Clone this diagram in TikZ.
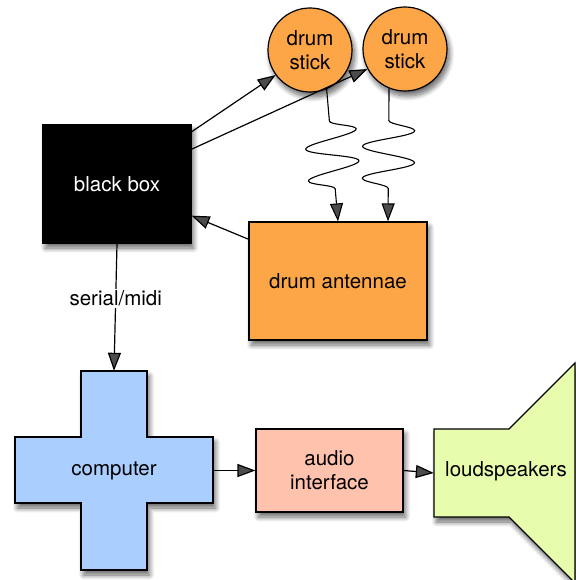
\documentclass[tikz,border=0pt]{standalone}
\usepackage{fontspec}
\setmainfont{TeX Gyre Heros}
\usetikzlibrary{arrows.meta,calc,shadows,shadows.blur,decorations.pathmorphing}

\definecolor{stickorange}{HTML}{FDA647}
\definecolor{compblue}{HTML}{AACEFD}
\definecolor{audiopink}{HTML}{FFC2AD}
\definecolor{speakergreen}{HTML}{E8FCAE}

\tikzset{
  softshadow/.style={blur shadow={shadow xshift=2.5pt, shadow yshift=-5pt,
      shadow blur steps=10, shadow blur radius=5pt, shadow opacity=60}},
  boxnode/.style={draw=black, line width=1.2pt, rectangle, align=center,
      font=\fontsize{20.5}{24}\selectfont, softshadow},
  sticknode/.style={draw=black, line width=1.2pt, circle, fill=stickorange,
      minimum size=84pt, inner sep=0pt, align=center,
      font=\fontsize{20.5}{24}\selectfont, softshadow},
  tipshape/.style={-{Triangle[length=18pt,width=13pt]}},
  flow/.style={line width=1.2pt, tipshape},
  wave/.style={line width=1.1pt, tipshape,
      decorate, decoration={snake, amplitude=26pt, segment length=32pt,
      pre length=32pt, post length=22pt}},
}

\begin{document}
\begin{tikzpicture}[x=1pt, y=-1pt]
  \useasboundingbox (0,0) rectangle (575,580);

  % sensor side
  \node[boxnode, fill=black, text=white, minimum width=148pt, minimum height=118pt]
    (bb) at (117,184) {black box};
  \node[sticknode] (ds1) at (310,50) {drum\\stick};
  \node[sticknode] (ds2) at (405,49) {drum\\stick};
  \node[boxnode, fill=stickorange, minimum width=178pt, minimum height=118pt]
    (ant) at (338,281) {drum antennae};

  % computer: plus-shaped outline around an invisible node
  \node[minimum width=198pt, minimum height=199pt, inner sep=0pt]
    (comp) at (114,470.5) {};
  \fill[compblue, draw=black, line width=1.2pt, softshadow]
    (81,371) -- (147,371) -- (147,437) -- (213,437) -- (213,503) -- (147,503)
    -- (147,570) -- (81,570) -- (81,503) -- (15,503) -- (15,437) -- (81,437)
    -- cycle;
  \node[font=\fontsize{20.5}{24}\selectfont] at (comp.center) {computer};

  \node[boxnode, fill=audiopink, minimum width=147pt, minimum height=83pt]
    (audio) at (329.5,470.5) {audio\\interface};

  % loudspeaker: box with a horn opening to the right
  \fill[speakergreen, draw=black, line width=1.2pt, softshadow]
    (434,429) -- (509,429) -- (575,363) -- (575,583) -- (509,517) -- (434,517)
    -- cycle;
  \node[minimum width=75pt, minimum height=88pt, inner sep=0pt]
    (spk) at (471.5,473) {};
  \node[font=\fontsize{20.5}{24}\selectfont] (spklabel) at (506,471) {loudspeakers};

  % connections
  \draw[flow] (bb.35) -- (ds1.216);
  \draw[flow] (bb.25) -- (ds2.208);
  \draw[flow] (ant.155) -- (bb.-23);
  \draw[wave] (ds1.-67) -- (ant.north);
  \draw[wave] (ds2.-112) -- ($(ant.north)+(50,0)$);
  \draw[flow] (bb.south) -- node[pos=0.43, fill=white, inner sep=2pt,
      font=\fontsize{20.5}{24}\selectfont] (serial) {serial/midi} (comp.north);
  \draw[flow] (comp.east) -- (audio.west);
  \draw[flow] (audio.east) -- (spk.west);
\end{tikzpicture}
\end{document}
